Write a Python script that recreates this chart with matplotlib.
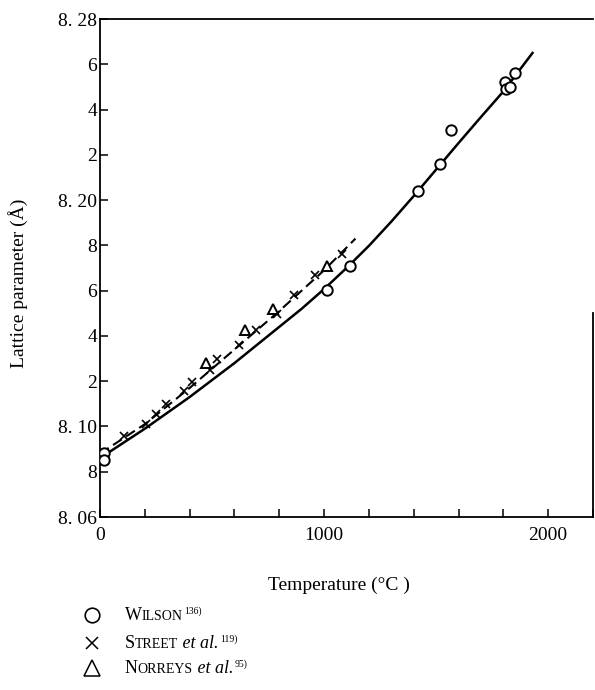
import numpy as np
import matplotlib
matplotlib.use("Agg")
import matplotlib.pyplot as plt

plt.rcParams['font.family'] = ['Liberation Serif', 'DejaVu Serif']

# Wilson (circles)
wilson_t = [20, 20, 1011, 1114, 1421, 1519, 1568, 1808, 1813, 1831, 1853]
wilson_a = [8.0884, 8.0853, 8.1604, 8.1707, 8.204, 8.216, 8.2311, 8.252, 8.249, 8.250, 8.256]

# Street et al. (crosses)
street_t = [107, 205, 249, 294, 374, 410, 490, 521, 619, 695, 788, 864, 958, 1078]
street_a = [8.0956, 8.1013, 8.1053, 8.1098, 8.1156, 8.1196, 8.1249, 8.1298,
            8.136, 8.1427, 8.1498, 8.1582, 8.1671, 8.1764]

# Norreys et al. (triangles)
norreys_t = [472, 646, 771, 1011]
norreys_a = [8.128, 8.1427, 8.152, 8.1707]

# curves
solid_t = [0, 100, 200, 300, 400, 500, 600, 700, 800, 900, 1000, 1100, 1200,
           1300, 1400, 1500, 1600, 1700, 1800, 1930]
solid_a = [8.086, 8.0925, 8.099, 8.106, 8.113, 8.1205, 8.128, 8.136, 8.144, 8.152,
           8.1607, 8.170, 8.1798, 8.1905, 8.2018, 8.2135, 8.2252, 8.2367, 8.248, 8.265]
dash_t = [0, 200, 400, 600, 800, 1000, 1140]
dash_a = [8.088, 8.101, 8.117, 8.134, 8.151, 8.169, 8.183]

xticks = np.arange(0, 2201, 200)
xlabels = ['0', '', '', '', '', '1000', '', '', '', '', '2000', '']
yticks = np.arange(8.06, 8.2801, 0.02)
ylabels = ['8. 06', '8', '8. 10', '2', '4', '6', '8', '8. 20', '2', '4', '6', '8. 28']

fig = plt.figure(figsize=(5.95, 6.9), dpi=100)
ax = fig.add_axes([100/595, 1-517/690, 493/595, 498/690])

ax.plot(solid_t, solid_a, color='k', lw=1.8, zorder=2)
ax.plot(dash_t, dash_a, color='k', lw=1.5, ls=(0, (5, 2.5)), zorder=2)
ax.plot(wilson_t, wilson_a, 'o', ms=7.5, mfc='white', mec='k', mew=1.4, zorder=3)
ax.plot(street_t, street_a, 'x', ms=6, mec='k', mew=1.2, zorder=3)
ax.plot(norreys_t, norreys_a, '^', ms=7.5, mfc='white', mec='k', mew=1.4, zorder=3)

ax.set_xlim(0, 2200)
ax.set_ylim(8.06, 8.28)
ax.set_xticks(xticks)
ax.set_xticklabels(xlabels)
ax.set_yticks(yticks)
ax.set_yticklabels(ylabels)
ax.tick_params(axis='both', direction='in', length=6, width=1.1, labelsize=14)
ax.tick_params(axis='x', pad=7)
ax.tick_params(axis='y', pad=2)
for s in ax.spines.values():
    s.set_linewidth(1.3)
ax.spines['right'].set_bounds(8.06, 8.15)

fig.text(18/595, 1-283/690, 'Lattice parameter (Å)', rotation=90,
         ha='center', va='center', fontsize=14)
fig.text(339/595, 1-585/690, 'Temperature (°C )', ha='center', va='center', fontsize=14)

# legend drawn by hand below the axes
fig.canvas.draw()
renderer = fig.canvas.get_renderer()


def chain(parts, x, y):
    # parts: (text, size, style, rise in px)
    for s, fs, style, rise in parts:
        if rise:
            x += 1.5/595
        t = fig.text(x, y + rise/690, s, fontsize=fs, style=style,
                     ha='left', va='baseline')
        bb = t.get_window_extent(renderer)
        x = bb.x1 / fig.bbox.width


leg_y = [620, 648, 673]
fig.lines.append(plt.Line2D([92/595], [1-615/690], marker='o', ms=10.5, mfc='white',
                            mec='k', mew=1.2, transform=fig.transFigure))
fig.lines.append(plt.Line2D([92/595], [1-643/690], marker='x', ms=8, mec='k',
                            mew=1.1, transform=fig.transFigure))
fig.lines.append(plt.Line2D([92/595], [1-668/690], marker='^', ms=11.5, mfc='white',
                            mec='k', mew=1.1, transform=fig.transFigure))

chain([('W', 13, 'normal', 0), ('ILSON', 10, 'normal', 0), ('136)', 7, 'normal', 6)],
      125/595, 1-leg_y[0]/690)
chain([('S', 13, 'normal', 0), ('TREET', 10, 'normal', 0), (' et al.', 13, 'italic', 0),
       ('119)', 7, 'normal', 6)], 125/595, 1-leg_y[1]/690)
chain([('N', 13, 'normal', 0), ('ORREYS', 10, 'normal', 0), (' et al.', 13, 'italic', 0),
       ('95)', 7, 'normal', 6)], 125/595, 1-leg_y[2]/690)

fig.savefig('out.png', dpi=100)
